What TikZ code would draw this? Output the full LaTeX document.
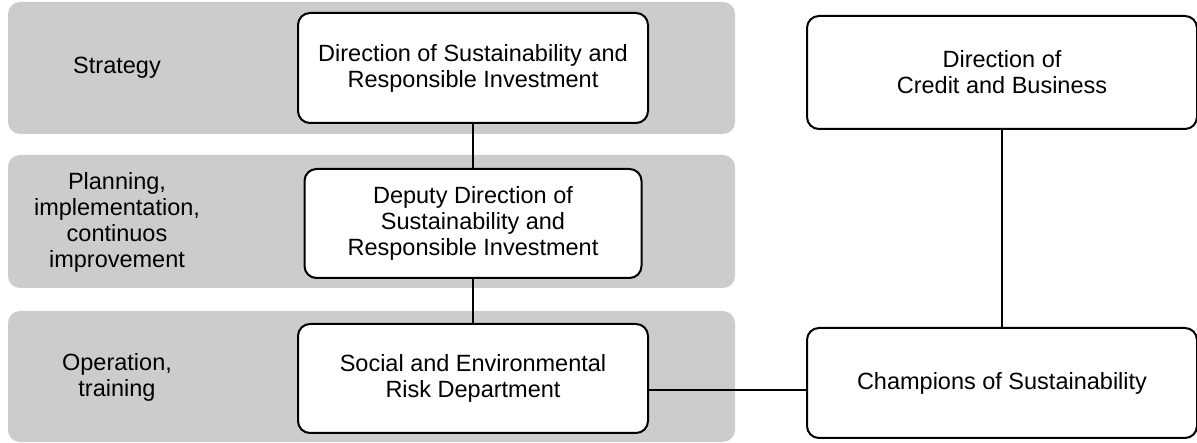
\documentclass[tikz,border=0pt]{standalone}
\usepackage{fontspec}
\setmainfont{Liberation Sans}
\definecolor{bandgray}{HTML}{CCCCCC}
\begin{document}
\begin{tikzpicture}[x=1pt,y=-1pt,
  band/.style={fill=bandgray, draw=none, rounded corners=12pt, inner sep=0pt},
  orgbox/.style={draw=black, line width=2pt, fill=white, rounded corners=12pt, align=center, inner sep=0pt},
  lbl/.style={align=center, inner sep=0pt},
  conn/.style={draw=black, line width=2pt}
]
\useasboundingbox (0,0) rectangle (1197,443);
\fontsize{23.5}{26}\selectfont
% bands
\node[band, minimum width=727pt, minimum height=132pt] (b1) at (371.5,68) {};
\node[band, minimum width=727pt, minimum height=133pt] (b2) at (371.5,221.5) {};
\node[band, minimum width=727pt, minimum height=131pt] (b3) at (371.5,376.5) {};
% labels
\node[lbl] (l1) at (117,68) {Strategy};
\node[lbl] (l2) at (117,222) {Planning,\\implementation,\\continuos\\improvement};
\node[lbl] (l3) at (117,377) {Operation,\\training};
% boxes
\node[orgbox, minimum width=350pt, minimum height=110pt] (d1) at (473,68) {Direction of Sustainability and\\Responsible Investment};
\node[orgbox, minimum width=337pt, minimum height=109pt] (d2) at (473,223.5) {Deputy Direction of\\Sustainability and\\Responsible Investment};
\node[orgbox, minimum width=350pt, minimum height=109pt] (d3) at (473,378.5) {Social and Environmental\\Risk Department};
\node[orgbox, minimum width=390pt, minimum height=113pt] (c1) at (1002,72.5) {Direction of\\Credit and Business};
\node[orgbox, minimum width=390pt, minimum height=110pt] (c2) at (1002,383) {Champions of Sustainability};
% connectors
\draw[conn] (d1.south) -- (d2.north);
\draw[conn] (d2.south) -- (d3.north);
\draw[conn] (c1.south) -- (c2.north);
\draw[conn] (d3.east |- 0,390) -- (c2.west |- 0,390);
\end{tikzpicture}
\end{document}
